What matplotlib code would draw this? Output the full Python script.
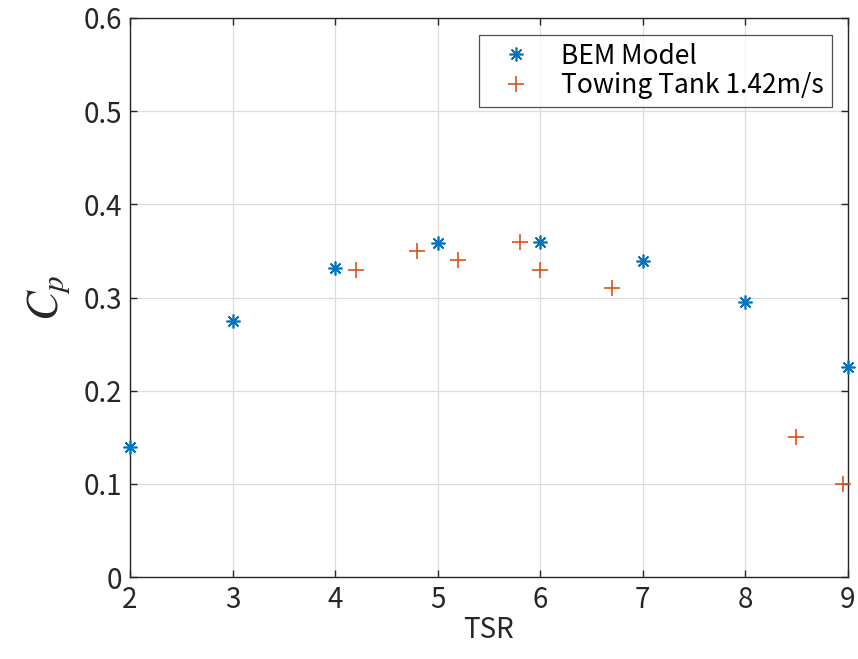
import matplotlib
matplotlib.use("Agg")
import matplotlib.pyplot as plt

plt.rcParams["font.family"] = ["Noto Sans CJK JP", "DejaVu Sans"]
plt.rcParams["mathtext.fontset"] = "stix"

# ---------------------------------------------------------------------------
# Data
# ---------------------------------------------------------------------------
bem_tsr = [2, 3, 4, 5, 6, 7, 8, 9]
bem_cp = [0.14, 0.275, 0.332, 0.358, 0.36, 0.339, 0.295, 0.225]

tank_tsr = [4.2, 4.8, 5.2, 5.8, 6.0, 6.7, 8.5, 8.95]
tank_cp = [0.33, 0.35, 0.34, 0.36, 0.33, 0.31, 0.15, 0.10]

x_ticks = [2, 3, 4, 5, 6, 7, 8, 9]
y_ticks = [0, 0.1, 0.2, 0.3, 0.4, 0.5, 0.6]
y_tick_labels = ["0", "0.1", "0.2", "0.3", "0.4", "0.5", "0.6"]

BLUE = "#0072BD"
ORANGE = "#D95319"

fig = plt.figure(figsize=(8.58, 6.59), dpi=100)
ax = fig.add_axes([0.1515, 0.1244, 0.8365, 0.8483])

ax.plot(bem_tsr, bem_cp, linestyle="none", marker=(8, 2, 0), markersize=10,
        color=BLUE, markeredgewidth=1.2, label="BEM Model", clip_on=False, zorder=3)
ax.plot(tank_tsr, tank_cp, linestyle="none", marker="+", markersize=11,
        color=ORANGE, markeredgewidth=1.2, label="Towing Tank 1.42m/s", clip_on=False, zorder=3)

ax.set_xlim(2, 9)
ax.set_ylim(0, 0.6)
ax.set_xticks(x_ticks)
ax.set_yticks(y_ticks)
ax.set_yticklabels(y_tick_labels)
ax.grid(True, color="#dcdcdc", linewidth=0.9)
ax.set_axisbelow(True)

for sp in ax.spines.values():
    sp.set_color("#262626")
    sp.set_linewidth(1.0)
ax.tick_params(direction="in", length=5, width=1.0, colors="#262626",
               labelsize=20, top=True, right=True, pad=6)

ax.set_xlabel("TSR", fontsize=20, color="#262626", labelpad=0)
ax.set_ylabel(r"$C_p$", fontsize=32, color="#262626", labelpad=8)

leg = ax.legend(loc="upper right", fontsize=19, frameon=True, fancybox=False,
                edgecolor="#262626", borderpad=0.3, labelspacing=0.1,
                handlelength=2.2, handletextpad=0.6, borderaxespad=0,
                bbox_to_anchor=(0.978, 0.97))
leg.get_frame().set_linewidth(0.9)

fig.savefig("out.png", dpi=100)
